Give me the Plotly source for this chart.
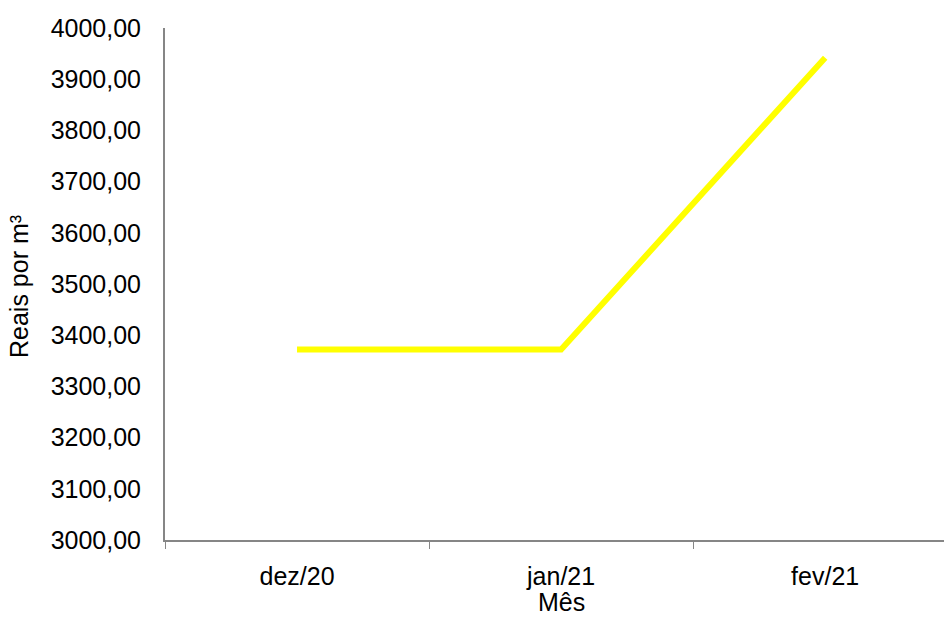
import plotly.graph_objects as go

months = ["dez/20", "jan/21", "fev/21"]
prices = [3372.0, 3372.0, 3942.0]
x_title = "Mês"
y_title = "Reais por m³"

fig = go.Figure()
fig.add_trace(go.Scatter(
    x=months, y=prices, mode="lines",
    line=dict(color="#FFFF00", width=6),
    showlegend=False, hoverinfo="x+y",
))

axis_color = "#868686"
font = dict(family="Liberation Sans, Arial, sans-serif", size=25, color="#000000")

fig.update_layout(
    width=944, height=617,
    margin=dict(l=165, r=0, t=28, b=77),
    paper_bgcolor="white", plot_bgcolor="white",
    separators=",.",
    font=font,
    xaxis=dict(
        type="category", range=[-0.5, 2.45], automargin=False,
        showline=True, linecolor=axis_color, linewidth=2,
        ticks="outside", tickson="boundaries", ticklen=7, tickwidth=1, tickcolor=axis_color,
        showgrid=False, zeroline=False,
        tickfont=font, ticklabelstandoff=13,
    ),
    yaxis=dict(
        range=[3000, 4000], dtick=100, tickformat=".2f", automargin=False,
        showline=True, linecolor=axis_color, linewidth=2,
        ticks="", showgrid=False, zeroline=False,
        tickfont=font, ticklabelstandoff=17,
    ),
    annotations=[
        dict(text=x_title, xref="x", x=months[1], yref="paper", y=0,
             xanchor="center", yanchor="middle", yshift=-62, borderpad=0,
             showarrow=False, font=font),
        dict(text=y_title, xref="paper", x=0, yref="paper", y=0.5,
             xanchor="center", yanchor="middle", xshift=-146, yshift=-3, borderpad=0,
             textangle=-90, showarrow=False, font=font),
    ],
)

fig.write_html("out.html", config={"displayModeBar": False},
               post_script="document.body.style.margin='0';")
